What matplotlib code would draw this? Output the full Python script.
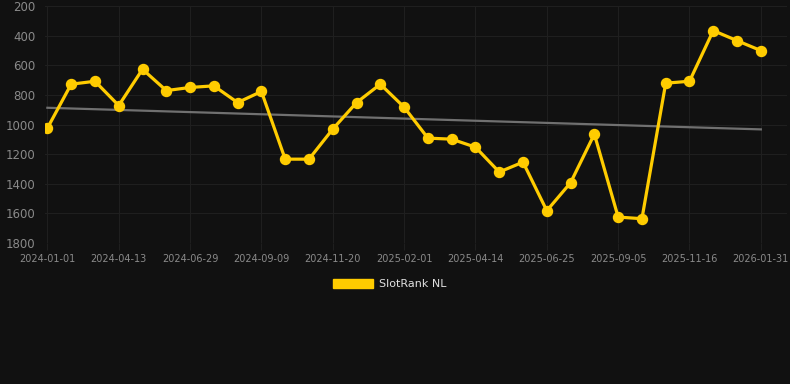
import matplotlib
matplotlib.use("Agg")
import matplotlib.pyplot as plt
from matplotlib.patches import Patch
import numpy as np

# rank per observation (lower = better, axis inverted)
ranks = [1025, 728, 708, 872, 627, 771, 750, 739, 852, 777,
         1234, 1234, 1031, 852, 728, 883, 1092, 1099, 1153, 1321,
         1254, 1582, 1393, 1065, 1625, 1636, 721, 708, 366, 434, 501]
tick_labels = ['2024-01-01', '2024-04-13', '2024-06-29', '2024-09-09',
               '2024-11-20', '2025-02-01', '2025-04-14', '2025-06-25',
               '2025-09-05', '2025-11-16', '2026-01-31']
y_ticks = [200, 400, 600, 800, 1000, 1200, 1400, 1600, 1800]

bg = '#111111'
grid_c = '#1f1f1f'
yellow = '#ffcc00'

x = np.arange(len(ranks))
fig = plt.figure(figsize=(7.9, 3.84), dpi=100, facecolor=bg)
ax = fig.add_axes([45 / 790, 141 / 384, 742 / 790, 237 / 384])
ax.set_facecolor(bg)

# trend line
k, b = np.polyfit(x, ranks, 1)
ax.plot(x, k * x + b, color='#707070', lw=1.6, zorder=2)

ax.plot(x, ranks, color=yellow, lw=2.3, marker='o', ms=7.2, zorder=3)

ax.set_ylim(1800, 200)
ax.set_yticks(y_ticks)
ax.set_xlim(-0.1, 31.1)
ax.set_xticks(x[::3])
ax.set_xticklabels(tick_labels)

ax.grid(True, color=grid_c, lw=0.8)
for s in ax.spines.values():
    s.set_visible(False)
ax.tick_params(axis='x', colors=grid_c, labelcolor='#8a8a8a', labelsize=7,
               length=5, width=0.8, pad=3)
ax.tick_params(axis='y', length=0, labelcolor='#8a8a8a', labelsize=8.5, pad=7)

fig.legend([Patch(facecolor=yellow, edgecolor=yellow)], ['SlotRank NL'],
           loc='center', bbox_to_anchor=(390 / 790, 1 - 284 / 384),
           frameon=False, handlelength=3.6, handleheight=0.9,
           handletextpad=0.5, fontsize=8, labelcolor='#e0e0e0')

fig.savefig('out.png', dpi=100, facecolor=bg)
